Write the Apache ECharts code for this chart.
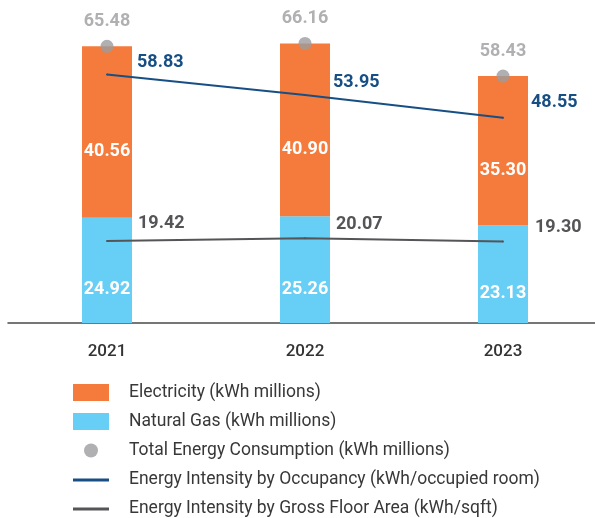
<!DOCTYPE html>
<html>
<head>
<meta charset="utf-8">
<script src="https://cdn.jsdelivr.net/npm/echarts@6/dist/echarts.min.js"></script>
<style>
  html, body { margin: 0; padding: 0; background: #fff; }
  #chart { width: 595px; height: 518px; }
</style>
</head>
<body>
<div id="chart"></div>
<script>
// Energy consumption by year
const years = ['2021', '2022', '2023'];
const naturalGas = [24.92, 25.26, 23.13];
const electricity = [40.56, 40.90, 35.30];
const totalEnergy = [65.48, 66.16, 58.43];
const intensityOccupancy = [58.83, 53.95, 48.55];
const intensityGfa = [19.42, 20.07, 19.30];

const seriesNames = [
  'Electricity (kWh millions)',
  'Natural Gas (kWh millions)',
  'Total Energy Consumption (kWh millions)',
  'Energy Intensity by Occupancy (kWh/occupied room)',
  'Energy Intensity by Gross Floor Area (kWh/sqft)'
];

// label placement for the intensity lines (pixels from each point)
const occLabelShift = [[30, -12], [28, -13], [28, -15]];
const gfaLabelShift = [[31, -17], [31, -14], [32, -14]];

const C_ORANGE = '#F47B3B';
const C_BLUE = '#67CEF5';
const C_DOT = '#9C9C9F';
const C_NAVY = '#174F85';
const C_GREY = '#555558';
const FONT = 'Roboto';

function withShift(values, shifts) {
  return values.map((v, i) => ({ value: v, label: { offset: shifts[i] } }));
}

// legend rows: icon box and vertical centre of each row
const legendRows = [
  { name: seriesNames[0], icon: 'rect', left: 73, w: 36, h: 17, center: 392.5 },
  { name: seriesNames[1], icon: 'rect', left: 73, w: 36, h: 17, center: 421.5 },
  { name: seriesNames[2], icon: 'circle', left: 84, w: 36, h: 14, center: 450.5 },
  { name: seriesNames[3], icon: 'rect', left: 73, w: 36, h: 3, center: 480 },
  { name: seriesNames[4], icon: 'rect', left: 73, w: 36, h: 3, center: 509 }
];

const chart = echarts.init(document.getElementById('chart'), null, { renderer: 'canvas' });

chart.setOption({
  animation: false,
  backgroundColor: '#ffffff',
  textStyle: { fontFamily: FONT },
  grid: { left: 8, top: 23, right: -7, height: 300, containLabel: false, outerBoundsMode: 'none' },
  xAxis: {
    type: 'category',
    data: years,
    boundaryGap: true,
    axisLine: { show: true, lineStyle: { color: '#4a4a4a', width: 1.5 } },
    axisTick: { show: false },
    axisLabel: { color: '#333333', fontSize: 17, fontWeight: 500, fontFamily: FONT, margin: 20 },
    splitLine: { show: false }
  },
  yAxis: {
    type: 'value',
    min: 0,
    max: 71,
    show: false,
    splitLine: { show: false }
  },
  legend: legendRows.map(r => ({
    data: [{ name: r.name, icon: r.icon }],
    left: r.left,
    top: r.center - Math.max(r.h, 18) / 2,
    padding: 0,
    itemWidth: r.w,
    itemHeight: r.h,
    itemGap: 20,
    selectedMode: false,
    textStyle: { color: '#383838', fontSize: 17.5, fontFamily: FONT, padding: [0, 0, 0, 15] }
  })),
  series: [
    {
      name: seriesNames[1],
      type: 'bar',
      stack: 'energy',
      data: naturalGas,
      barWidth: 50,
      itemStyle: { color: C_BLUE },
      label: {
        show: true, position: 'inside', offset: [0, 19.5],
        color: '#ffffff', fontSize: 18, fontWeight: 'bold', fontFamily: FONT,
        formatter: p => p.value.toFixed(2)
      },
      z: 2
    },
    {
      name: seriesNames[0],
      type: 'bar',
      stack: 'energy',
      data: electricity,
      barWidth: 50,
      itemStyle: { color: C_ORANGE },
      label: {
        show: true, position: 'inside', offset: [0, 19.5],
        color: '#ffffff', fontSize: 18, fontWeight: 'bold', fontFamily: FONT,
        formatter: p => p.value.toFixed(2)
      },
      z: 2
    },
    {
      name: seriesNames[3],
      type: 'line',
      data: withShift(intensityOccupancy, occLabelShift),
      symbol: 'circle',
      symbolSize: 2,
      showSymbol: true,
      itemStyle: { color: C_NAVY },
      lineStyle: { color: C_NAVY, width: 2 },
      label: {
        show: true, position: 'inside', align: 'left', verticalAlign: 'middle',
        color: C_NAVY, fontSize: 18, fontWeight: 'bold', fontFamily: FONT,
        formatter: p => p.value.toFixed(2)
      },
      z: 4
    },
    {
      name: seriesNames[4],
      type: 'line',
      data: withShift(intensityGfa, gfaLabelShift),
      symbol: 'circle',
      symbolSize: 2,
      showSymbol: true,
      itemStyle: { color: C_GREY },
      lineStyle: { color: C_GREY, width: 2 },
      label: {
        show: true, position: 'inside', align: 'left', verticalAlign: 'middle',
        color: C_GREY, fontSize: 18, fontWeight: 'bold', fontFamily: FONT,
        formatter: p => p.value.toFixed(2)
      },
      z: 4
    },
    {
      name: seriesNames[2],
      type: 'scatter',
      data: totalEnergy,
      symbol: 'circle',
      symbolSize: 13,
      itemStyle: { color: C_DOT },
      label: {
        show: true, position: 'inside', offset: [0, -25],
        color: C_DOT, fontSize: 18, fontWeight: 'bold', fontFamily: FONT,
        formatter: p => p.value.toFixed(2)
      },
      z: 5
    }
  ]
});
</script>
</body>
</html>
